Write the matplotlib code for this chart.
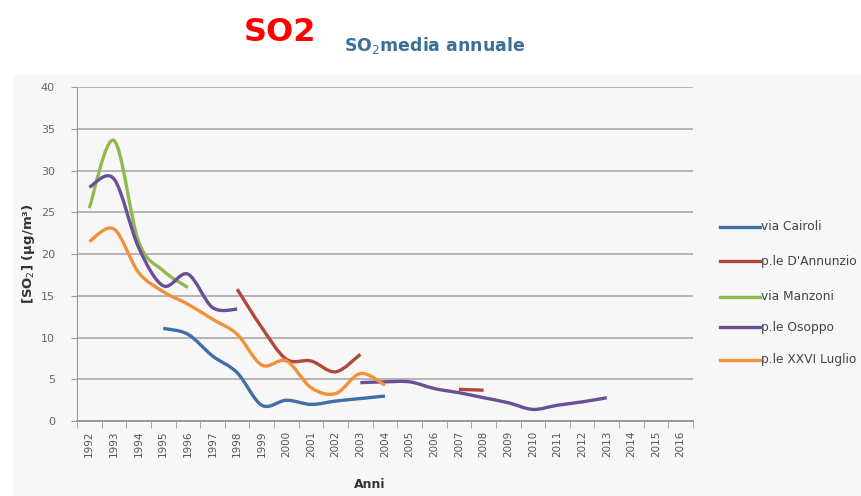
import numpy as np
import matplotlib
matplotlib.use("Agg")
import matplotlib.pyplot as plt
from matplotlib.path import Path
from matplotlib.patches import PathPatch

years = [str(y) for y in range(1992, 2017)]
N = None
cairoli =    [N, N, N, 11.1, 10.4, 7.8, 5.8, 1.9, 2.5, 2.0, 2.4, 2.7, 3.0, N, N, N, N, N, N, N, N, N, N, N, N]
dannunzio =  [N, N, N, N, N, N, 15.8, 11.2, 7.4, 7.2, 5.9, 8.0, N, N, N, 3.8, 3.7, N, N, N, N, N, N, N, N]
manzoni =    [25.5, 33.6, 21.5, 18.0, 16.0, N, N, N, N, N, N, N, N, N, N, N, N, N, N, N, N, N, N, N, N]
osoppo =     [28.0, 29.0, 20.8, 16.2, 17.6, 13.6, 13.4, N, N, N, N, 4.6, 4.7, 4.7, 3.9, 3.4, 2.8, 2.2, 1.4, 1.9, 2.3, 2.8, N, N, N]
luglio =     [21.5, 23.0, 17.8, 15.5, 14.0, 12.2, 10.4, 6.7, 7.2, 4.0, 3.3, 5.7, 4.3, N, N, N, N, N, N, N, N, N, N, N, N]

series_names = ["via Cairoli", "p.le D'Annunzio", "via Manzoni", "p.le Osoppo", "p.le XXVI Luglio"]
series_vals = [cairoli, dannunzio, manzoni, osoppo, luglio]
colors = ["#3f6fa6", "#b0483e", "#8fba4e", "#6a4f96", "#f2913a"]

fig = plt.figure(figsize=(8.61, 4.96), dpi=100)
fig.patch.set_facecolor("white")
fig.patches.append(matplotlib.patches.Rectangle((13 / 861, 0), 1, 1 - 75 / 496, transform=fig.transFigure,
                                                facecolor="#f7f7f7", edgecolor="none", zorder=-10))
ax = fig.add_axes([0.0894, 0.151, 0.7155, 0.6736])
ax.set_facecolor("none")

def smooth_segments(vals):
    segs, cur = [], []
    for i, v in enumerate(vals):
        if v is None:
            if cur: segs.append(cur); cur = []
        else:
            cur.append((i, v))
    if cur: segs.append(cur)
    return segs

def bezier_path(pts):
    pts = np.array(pts, dtype=float)
    verts = [tuple(pts[0])]
    codes = [Path.MOVETO]
    n = len(pts)
    for i in range(n - 1):
        p0 = pts[i - 1] if i > 0 else pts[i]
        p1 = pts[i]
        p2 = pts[i + 1]
        p3 = pts[i + 2] if i + 2 < n else pts[i + 1]
        c1 = p1 + (p2 - p0) / 6.0
        c2 = p2 - (p3 - p1) / 6.0
        verts += [tuple(c1), tuple(c2), tuple(p2)]
        codes += [Path.CURVE4] * 3
    return Path(verts, codes)

for vals, col in zip(series_vals, colors):
    for seg in smooth_segments(vals):
        ax.add_patch(PathPatch(bezier_path(seg), facecolor="none", edgecolor=col,
                               lw=2.4, capstyle="butt", zorder=3))

ax.set_xlim(-0.5, len(years) - 0.5)
ax.set_ylim(0, 40)
ax.set_yticks(range(0, 41, 5))
ax.yaxis.grid(True, color="#b5b5b5", lw=1.4)
ax.set_axisbelow(True)
ax.set_xticks(range(len(years)))
ax.set_xticklabels(years, rotation=90, fontsize=7.5, color="#555555")
ax.set_xticks(np.arange(-0.5, len(years), 1), minor=True)
ax.tick_params(axis="x", which="major", length=0, pad=7)
ax.tick_params(axis="x", which="minor", length=5, color="#999999")
ax.tick_params(axis="y", length=4, color="#999999", labelsize=8, labelcolor="#666666", pad=12)
for s in ["top", "right"]:
    ax.spines[s].set_visible(False)
ax.spines["left"].set_color("#999999")
ax.spines["bottom"].set_color("#999999")
ax.spines["bottom"].set_linewidth(1.4)

ax.set_xlabel("Anni", fontsize=9, fontweight="bold", color="#333333")
ax.xaxis.set_label_coords(0.475, -0.17)
ax.set_ylabel("[SO$_2$] (µg/m³)", fontsize=9.5, fontweight="bold", color="#333333")
ax.yaxis.set_label_coords(-0.065, 0.5)

fig.text(0.325, 0.935, "SO2", color="#ff0000", fontsize=23, fontweight="bold", ha="center", va="center")
fig.text(0.40, 0.908, "SO$_2$media annuale", color="#3d7096", fontsize=12.5, fontweight="bold", ha="left", va="center")

# legend
leg_y = [227, 261, 297, 327, 360]
for name, col, yy in zip(series_names, colors, leg_y):
    yf = 1 - yy / 496
    fig.add_artist(matplotlib.lines.Line2D([720 / 861, 760 / 861], [yf, yf], color=col, lw=2.4))
    fig.text(761 / 861, yf, name, fontsize=8.8, color="#444444", va="center", ha="left")

fig.savefig("out.png", dpi=100)
